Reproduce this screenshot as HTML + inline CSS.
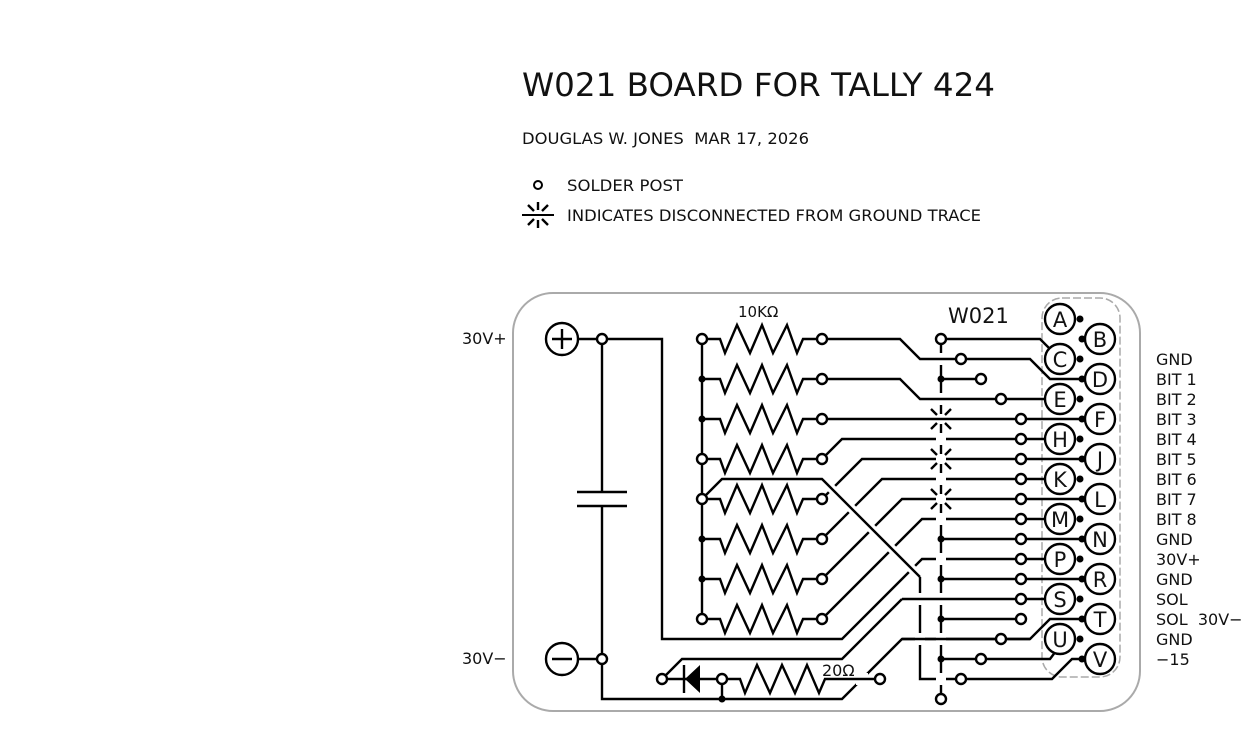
<!DOCTYPE html>
<html><head><meta charset="utf-8"><style>
html,body{margin:0;padding:0;background:#fff;}
svg{display:block;}
text{font-family:"DejaVu Sans","Liberation Sans",sans-serif;fill:#111;}
</style></head><body>
<svg width="1250" height="750" viewBox="0 0 1250 750" xmlns="http://www.w3.org/2000/svg">
<defs>
<g id="res"><polyline points="702,0 720,0 725,14 737,-14 750,14 762,-14 773,14 787,-14 797,14 803,0 822,0" fill="none" stroke="#000" stroke-width="2.4"/></g>
<g id="sb" stroke="#000" stroke-width="2.4" fill="none">
<line x1="0" y1="-5" x2="0" y2="-13"/><line x1="0" y1="5" x2="0" y2="13"/>
<line x1="-4" y1="-4" x2="-10" y2="-10"/><line x1="4" y1="-4" x2="10" y2="-10"/>
<line x1="-4" y1="4" x2="-10" y2="10"/><line x1="4" y1="4" x2="10" y2="10"/>
</g>
</defs>
<text x="522" y="96" font-size="32" textLength="473" lengthAdjust="spacingAndGlyphs">W021 BOARD FOR TALLY 424</text>
<text x="522" y="144" font-size="16" textLength="287" lengthAdjust="spacingAndGlyphs" style="white-space:pre">DOUGLAS W. JONES  MAR 17, 2026</text>
<circle cx="538" cy="185" r="4" fill="none" stroke="#000" stroke-width="2"/>
<text x="567" y="191" font-size="16" textLength="116" lengthAdjust="spacingAndGlyphs">SOLDER POST</text>
<g transform="translate(538,215)"><use href="#sb"/><line x1="-16" y1="0" x2="16" y2="0" stroke="#000" stroke-width="2"/></g>
<text x="567" y="221" font-size="16" textLength="414" lengthAdjust="spacingAndGlyphs">INDICATES DISCONNECTED FROM GROUND TRACE</text>

<rect x="513" y="293" width="627" height="418" rx="40" fill="none" stroke="#aaa" stroke-width="2"/>
<rect x="1042" y="298" width="78" height="379" rx="20" fill="none" stroke="#aaa" stroke-width="1.5" stroke-dasharray="8,3"/>

<text x="462" y="344" font-size="16">30V+</text>
<text x="462" y="664" font-size="16">30V−</text>
<text x="738" y="317" font-size="15">10KΩ</text>
<text x="948" y="323" font-size="21" font-family="Liberation Sans">W021</text>
<text x="822" y="676" font-size="16">20Ω</text>

<g font-size="16">
<text x="1156" y="365">GND</text><text x="1156" y="385">BIT 1</text><text x="1156" y="405">BIT 2</text>
<text x="1156" y="425">BIT 3</text><text x="1156" y="445">BIT 4</text><text x="1156" y="465">BIT 5</text>
<text x="1156" y="485">BIT 6</text><text x="1156" y="505">BIT 7</text><text x="1156" y="525">BIT 8</text>
<text x="1156" y="545">GND</text><text x="1156" y="565">30V+</text><text x="1156" y="585">GND</text>
<text x="1156" y="605">SOL</text><text x="1156" y="625" style="white-space:pre">SOL  30V−</text><text x="1156" y="645">GND</text>
<text x="1156" y="665">−15</text>
</g>

<g stroke="#000" stroke-width="2.4" fill="none">
<circle cx="562" cy="339" r="16"/><line x1="552" y1="339" x2="572" y2="339"/><line x1="562" y1="329" x2="562" y2="349"/>
<circle cx="562" cy="659" r="16"/><line x1="552" y1="659" x2="572" y2="659"/>
<line x1="578" y1="339" x2="602" y2="339"/><line x1="578" y1="659" x2="602" y2="659"/>
<polyline points="602,339 662,339 662,639 842,639 922,559 1060,559"/>
<line x1="602" y1="339" x2="602" y2="492"/>
<line x1="577" y1="492" x2="627" y2="492"/><line x1="577" y1="506" x2="627" y2="506"/>
<polyline points="602,506 602,699 842,699 902,639 1030,639 1050,619 1082,619"/>
<line x1="702" y1="339" x2="702" y2="619"/>
<line x1="941" y1="339" x2="941" y2="699"/>
<polyline points="920,577 920,679 1052,679 1072,659 1082,659"/>
<use href="#res" transform="translate(0,339)"/><use href="#res" transform="translate(0,379)"/>
<use href="#res" transform="translate(0,419)"/><use href="#res" transform="translate(0,459)"/>
<use href="#res" transform="translate(0,499)"/><use href="#res" transform="translate(0,539)"/>
<use href="#res" transform="translate(0,579)"/><use href="#res" transform="translate(0,619)"/>
<polyline points="822,459 842,439 1060,439"/>
<polyline points="822,499 862,459 1082,459"/>
<polyline points="822,539 882,479 1060,479"/>
<polyline points="822,579 902,499 1082,499"/>
<polyline points="822,619 922,519 1060,519"/>
<polyline points="902,599 842,659 682,659 662,679"/>
</g>
<g fill="#fff">
<rect x="936" y="353" width="10" height="12"/><rect x="936" y="393" width="10" height="12"/>
<rect x="936" y="433" width="10" height="12"/><rect x="936" y="473" width="10" height="12"/>
<rect x="936" y="513" width="10" height="12"/><rect x="936" y="553" width="10" height="12"/>
<rect x="936" y="593" width="10" height="12"/><rect x="936" y="633" width="10" height="12"/>
<rect x="936" y="673" width="10" height="12"/>
<rect x="936" y="406" width="10" height="26"/><rect x="936" y="446" width="10" height="26"/><rect x="936" y="486" width="10" height="26"/>
<rect x="915" y="593" width="10" height="12"/><rect x="915" y="633" width="10" height="12"/>
<rect x="856" y="673" width="12" height="12"/>
</g>
<g stroke="#000" stroke-width="2.4" fill="none">
<line x1="826" y1="483" x2="917" y2="574" stroke="#fff" stroke-width="9"/>
<polyline points="702,499 722,479 822,479 920,577"/>
<polyline points="822,339 900,339 920,359 1030,359 1050,379 1082,379"/>
<polyline points="822,379 900,379 920,399 1060,399"/>
<line x1="822" y1="419" x2="1082" y2="419"/>
<polyline points="941,339 1040,339 1050,349"/>
<line x1="941" y1="379" x2="981" y2="379"/>
<line x1="941" y1="539" x2="1082" y2="539"/>
<line x1="902" y1="599" x2="1060" y2="599"/>
<line x1="941" y1="579" x2="1082" y2="579"/>
<line x1="941" y1="619" x2="1021" y2="619"/>
<polyline points="941,659 1050,659 1056,651"/>
<line x1="902" y1="639" x2="1030" y2="639"/>
<use href="#sb" transform="translate(941,419)"/><use href="#sb" transform="translate(941,459)"/><use href="#sb" transform="translate(941,499)"/>
<line x1="662" y1="679" x2="722" y2="679"/>
<polyline points="722,679 740,679 745,693 757,665 770,693 782,665 795,693 807,665 819,693 825,679 880,679"/>
<line x1="722" y1="679" x2="722" y2="699"/>
<line x1="684" y1="665" x2="684" y2="693"/>
</g>
<polygon points="685,679 700,665 700,693" fill="#000"/>
<g stroke="#000" stroke-width="2.4" fill="#fff">
<circle cx="1060" cy="319" r="15"/><circle cx="1060" cy="359" r="15"/><circle cx="1060" cy="399" r="15"/>
<circle cx="1060" cy="439" r="15"/><circle cx="1060" cy="479" r="15"/><circle cx="1060" cy="519" r="15"/>
<circle cx="1060" cy="559" r="15"/><circle cx="1060" cy="599" r="15"/><circle cx="1060" cy="639" r="15"/>
<circle cx="1100" cy="339" r="15"/><circle cx="1100" cy="379" r="15"/><circle cx="1100" cy="419" r="15"/>
<circle cx="1100" cy="459" r="15"/><circle cx="1100" cy="499" r="15"/><circle cx="1100" cy="539" r="15"/>
<circle cx="1100" cy="579" r="15"/><circle cx="1100" cy="619" r="15"/><circle cx="1100" cy="659" r="15"/>
</g>
<g font-size="21" text-anchor="middle" font-family="Liberation Sans">
<text x="1060" y="327">A</text><text x="1060" y="367">C</text><text x="1060" y="407">E</text>
<text x="1060" y="447">H</text><text x="1060" y="487">K</text><text x="1060" y="527">M</text>
<text x="1060" y="567">P</text><text x="1060" y="607">S</text><text x="1060" y="647">U</text>
<text x="1100" y="347">B</text><text x="1100" y="387">D</text><text x="1100" y="427">F</text>
<text x="1100" y="467">J</text><text x="1100" y="507">L</text><text x="1100" y="547">N</text>
<text x="1100" y="587">R</text><text x="1100" y="627">T</text><text x="1100" y="667">V</text>
</g>
<g fill="#000">
<circle cx="1080" cy="319" r="3.5"/><circle cx="1080" cy="359" r="3.5"/><circle cx="1080" cy="399" r="3.5"/>
<circle cx="1080" cy="439" r="3.5"/><circle cx="1080" cy="479" r="3.5"/><circle cx="1080" cy="519" r="3.5"/>
<circle cx="1080" cy="559" r="3.5"/><circle cx="1080" cy="599" r="3.5"/><circle cx="1080" cy="639" r="3.5"/>
<circle cx="1082" cy="339" r="3.5"/><circle cx="1082" cy="379" r="3.5"/><circle cx="1082" cy="419" r="3.5"/>
<circle cx="1082" cy="459" r="3.5"/><circle cx="1082" cy="499" r="3.5"/><circle cx="1082" cy="539" r="3.5"/>
<circle cx="1082" cy="579" r="3.5"/><circle cx="1082" cy="619" r="3.5"/><circle cx="1082" cy="659" r="3.5"/>
<circle cx="702" cy="379" r="3.5"/><circle cx="702" cy="419" r="3.5"/><circle cx="702" cy="539" r="3.5"/><circle cx="702" cy="579" r="3.5"/>
<circle cx="941" cy="379" r="3.5"/><circle cx="941" cy="539" r="3.5"/><circle cx="941" cy="579" r="3.5"/>
<circle cx="941" cy="619" r="3.5"/><circle cx="941" cy="659" r="3.5"/><circle cx="722" cy="699" r="3.5"/>
</g>
<g stroke="#000" stroke-width="2.4" fill="#fff">
<circle cx="602" cy="339" r="5"/><circle cx="602" cy="659" r="5"/>
<circle cx="702" cy="339" r="5"/><circle cx="702" cy="459" r="5"/><circle cx="702" cy="499" r="5"/><circle cx="702" cy="619" r="5"/>
<circle cx="822" cy="339" r="5"/><circle cx="822" cy="379" r="5"/><circle cx="822" cy="419" r="5"/><circle cx="822" cy="459" r="5"/>
<circle cx="822" cy="499" r="5"/><circle cx="822" cy="539" r="5"/><circle cx="822" cy="579" r="5"/><circle cx="822" cy="619" r="5"/>
<circle cx="941" cy="339" r="5"/><circle cx="941" cy="699" r="5"/>
<circle cx="961" cy="359" r="5"/><circle cx="981" cy="379" r="5"/><circle cx="1001" cy="399" r="5"/>
<circle cx="1021" cy="419" r="5"/><circle cx="1021" cy="439" r="5"/><circle cx="1021" cy="459" r="5"/>
<circle cx="1021" cy="479" r="5"/><circle cx="1021" cy="499" r="5"/><circle cx="1021" cy="519" r="5"/>
<circle cx="1021" cy="539" r="5"/><circle cx="1021" cy="559" r="5"/><circle cx="1021" cy="579" r="5"/>
<circle cx="1021" cy="599" r="5"/><circle cx="1021" cy="619" r="5"/><circle cx="1001" cy="639" r="5"/>
<circle cx="981" cy="659" r="5"/><circle cx="961" cy="679" r="5"/>
<circle cx="662" cy="679" r="5"/><circle cx="722" cy="679" r="5"/><circle cx="880" cy="679" r="5"/>
</g>
</svg>
</body></html>
